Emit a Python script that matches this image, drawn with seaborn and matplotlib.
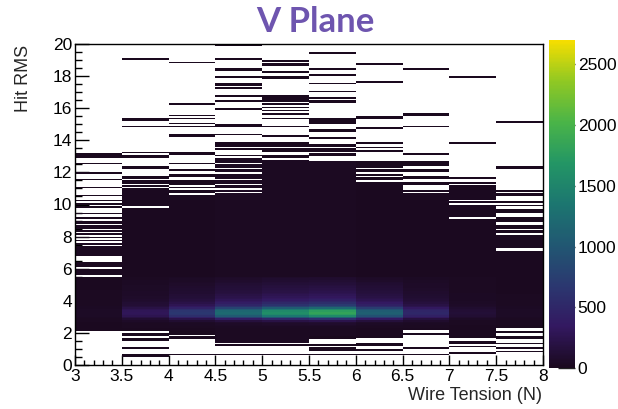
import numpy as np
import pandas as pd
import matplotlib
matplotlib.use("Agg")
import matplotlib.pyplot as plt
from matplotlib.colors import LinearSegmentedColormap
from matplotlib.ticker import MultipleLocator, FuncFormatter
import seaborn as sns

# ---- histogram content -------------------------------------------------
# wire-tension bin centres (N); bins are 0.5 N wide from 3 to 8
tension_bins = [3.25, 3.75, 4.25, 4.75, 5.25, 5.75, 6.25, 6.75, 7.25, 7.75]

# continuous populated Hit-RMS span of each tension bin (lower edge, upper edge)
core_lo = [2.2, 2.2, 2.1, 1.4, 1.4, 1.8, 1.8, 2.2, 1.8, 2.5]
core_hi = [8.7, 11.0, 10.6, 12.9, 12.8, 12.7, 11.4, 10.7, 10.9, 8.1]

# typical entries per 0.1 RMS bin inside that span
core_level = [18, 20, 20, 22, 22, 22, 20, 20, 18, 16]

# empty RMS rows inside the populated span
core_gaps = [
    [5.5, 6.0, 6.4, 6.5, 6.6, 6.7, 7.4, 7.6, 7.8, 8.0, 8.2, 8.4],
    [9.8],
    [],
    [10.7, 10.9, 11.2, 11.5, 11.9, 12.2, 12.5],
    [],
    [],
    [],
    [],
    [9.1, 10.0, 10.2],
    [7.1, 7.2],
]

# isolated single-entry rows outside the populated span
extra_rows = [
    [2.1, 8.8, 8.9, 9.1, 9.4, 9.8, 10.0, 10.2, 10.5, 11.0, 11.5, 11.9,
     12.5, 12.9, 13.0, 13.1],
    [0.5, 0.6, 1.0, 1.5, 1.6, 1.8, 1.9, 2.1, 11.1, 11.3, 11.4, 11.6, 11.7,
     12.2, 12.3, 12.9, 13.0, 13.2, 14.8, 15.2, 15.3, 19.0],
    [0.6, 1.6, 1.7, 1.9, 2.0, 10.7, 10.8, 11.0, 11.2, 11.3, 11.4, 11.7,
     11.8, 12.1, 12.5, 13.1, 13.2, 14.2, 14.3, 14.8, 15.0, 15.3, 15.5,
     16.2, 18.8],
    [0.6, 1.2, 13.0, 13.4, 13.6, 13.7, 13.8, 14.3, 14.8, 14.9, 15.9, 16.4,
     16.7, 17.2, 17.4, 17.5, 17.9, 18.3, 18.4, 19.0, 19.9],
    [0.6, 1.2, 12.9, 13.0, 13.3, 13.4, 13.6, 13.7, 13.8, 14.2, 14.8, 15.3,
     15.6, 15.8, 16.0, 16.2, 16.4, 16.5, 16.6, 16.7, 17.8, 17.9, 18.2,
     18.6, 18.7, 18.9],
    [0.6, 0.9, 1.0, 1.2, 1.6, 1.7, 13.0, 13.1, 13.3, 13.4, 13.6, 13.7,
     14.1, 14.5, 14.6, 15.0, 15.1, 15.2, 15.3, 16.3, 16.4, 16.6, 17.0,
     17.5, 18.0, 18.4, 19.4],
    [0.6, 0.9, 1.2, 1.3, 1.7, 11.5, 11.6, 11.8, 12.0, 12.1, 12.3, 12.4,
     12.5, 12.6, 13.3, 13.5, 13.8, 14.7, 15.3, 15.4, 17.6, 18.7],
    [0.6, 1.0, 1.9, 10.8, 11.2, 11.3, 11.6, 11.7, 12.0, 12.1, 12.4, 12.5,
     12.6, 13.1, 14.8, 15.5, 15.6, 18.4],
    [0.7, 1.1, 1.3, 1.4, 1.7, 10.9, 11.0, 11.1, 11.3, 11.6, 13.8, 17.9],
    [0.8, 1.0, 1.3, 1.6, 1.7, 2.0, 2.3, 2.4, 8.2, 8.3, 8.5, 8.6, 8.9, 9.0,
     9.1, 9.5, 9.6, 9.9, 10.1, 10.5, 10.6, 10.8, 12.2, 12.3, 15.1],
]

# height of the RMS peak in each tension bin (entries)
peak_counts = [30, 280, 650, 1200, 1580, 1800, 1080, 480, 110, 35]

# relative peak profile along Hit RMS (lower edges of 0.1 bins)
profile_rms = [2.3, 2.4, 2.5, 2.6, 2.7, 2.8, 2.9, 3.0, 3.1, 3.2, 3.3, 3.4,
               3.5, 3.6, 3.7, 3.8, 3.9, 4.0, 4.1, 4.2, 4.3, 4.4, 4.5, 4.6,
               4.7, 4.8, 4.9, 5.0, 5.1, 5.2, 5.3, 5.4]
profile_shape = [0.01, 0.02, 0.03, 0.05, 0.12, 0.30, 0.60, 0.85, 0.97, 1.0,
                 0.97, 0.85, 0.65, 0.48, 0.38, 0.31, 0.26, 0.22, 0.19, 0.17,
                 0.15, 0.13, 0.12, 0.11, 0.10, 0.09, 0.08, 0.07, 0.06, 0.05,
                 0.04, 0.03]

cbar_ticks = [0, 500, 1000, 1500, 2000, 2500]
z_max = 2700

# ---- assemble the 2D histogram table ------------------------------------
x_edges = np.linspace(3.0, 8.0, 11)
y_edges = np.linspace(0.0, 20.0, 201)
n_y = len(y_edges) - 1


def row(v):
    return int(round(v * 10))


grid = np.zeros((len(tension_bins), n_y))
for c in range(len(tension_bins)):
    grid[c, row(core_lo[c]):row(core_hi[c])] = core_level[c]
    for g in core_gaps[c]:
        grid[c, row(g)] = 0
    for e in extra_rows[c]:
        grid[c, row(e)] = 2
    for yv, s in zip(profile_rms, profile_shape):
        r = row(yv)
        if grid[c, r] > 0:
            grid[c, r] += peak_counts[c] * s

ci, ri = np.nonzero(grid)
df = pd.DataFrame({
    "tension": np.asarray(tension_bins)[ci],
    "rms": y_edges[ri] + 0.05,
    "entries": grid[ci, ri],
})

# ROOT-like viridis palette
root_viridis = LinearSegmentedColormap.from_list("root_viridis", [
    (26/255, 9/255, 30/255), (51/255, 24/255, 96/255),
    (43/255, 55/255, 112/255), (33/255, 87/255, 114/255),
    (28/255, 118/255, 112/255), (35/255, 150/255, 101/255),
    (74/255, 180/255, 72/255), (144/255, 200/255, 35/255),
    (246/255, 222/255, 0/255)], N=255)

# ---- figure ---------------------------------------------------------------
sns.set_style("ticks")
plt.rcParams["font.family"] = ["Liberation Sans", "DejaVu Sans"]

fig = plt.figure(figsize=(6.18, 4.09), dpi=100)
ax = fig.add_axes([75/618, 1 - 365/409, 468/618, 321/409])
cax = fig.add_axes([549/618, 1 - 368/409, 26/618, 328/409])
ax.set_facecolor("white")

sns.histplot(data=df, x="tension", y="rms", weights="entries",
             bins=[x_edges, y_edges], cmap=root_viridis, vmin=0, vmax=z_max,
             cbar=True, cbar_ax=cax, ax=ax)

ax.set_xlim(3, 8)
ax.set_ylim(0, 20)
ax.set_xlabel("")
ax.set_ylabel("")

fmt = FuncFormatter(lambda v, p: f"{v:g}")
ax.xaxis.set_major_locator(MultipleLocator(0.5))
ax.xaxis.set_minor_locator(MultipleLocator(0.1))
ax.yaxis.set_major_locator(MultipleLocator(2))
ax.yaxis.set_minor_locator(MultipleLocator(0.5))
ax.xaxis.set_major_formatter(fmt)
ax.yaxis.set_major_formatter(fmt)

ax.tick_params(axis="x", which="major", direction="in", length=7, width=1,
               labelsize=12.5, pad=3, top=False, colors="black")
ax.tick_params(axis="x", which="minor", direction="in", length=3.5, width=1,
               top=False, colors="black")
ax.tick_params(axis="y", which="major", direction="in", length=10, width=1,
               labelsize=12.5, pad=2, right=False, colors="black")
ax.tick_params(axis="y", which="minor", direction="in", length=5, width=1,
               right=False, colors="black")
for s in ax.spines.values():
    s.set_color("black")
    s.set_linewidth(1.0)
    s.set_visible(True)

cax.set_yticks(cbar_ticks)
cax.yaxis.set_major_formatter(fmt)
cax.yaxis.set_minor_locator(MultipleLocator(100000))
cax.tick_params(axis="y", which="major", direction="in", length=12, width=1,
                labelsize=12.5, pad=2, colors="#222222", labelcolor="black")
for s in cax.spines.values():
    s.set_visible(False)

fig.text(24/618, 1 - 45/409, "Hit RMS", rotation=90, ha="center", va="top",
         fontsize=13)
fig.text(542/618, 1 - 395/409, "Wire Tension (N)", ha="right", va="center",
         fontsize=13)
fig.text(315/618, 1 - 22/409, "V Plane", ha="center", va="center",
         fontsize=25, fontweight="bold", color="#6e55af", family="Lato")

fig.savefig("out.png", dpi=100)
